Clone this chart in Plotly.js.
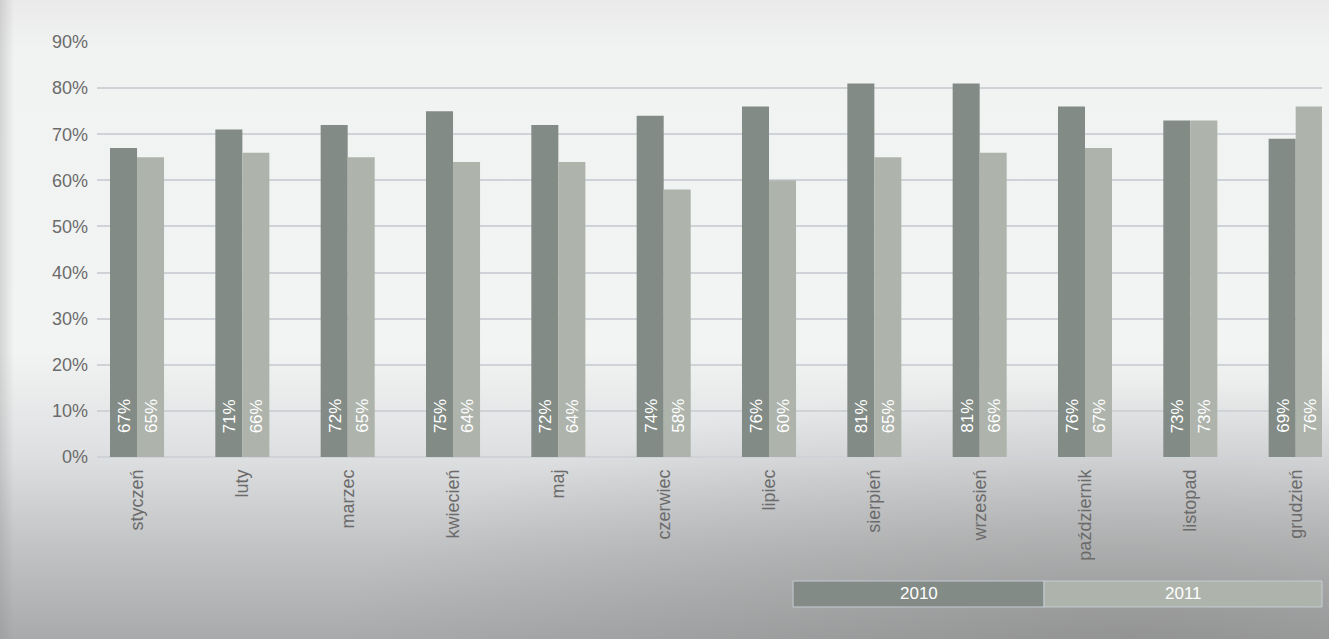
<!DOCTYPE html>
<html>
<head>
<meta charset="utf-8">
<script src="https://cdn.plot.ly/plotly-3.0.1.min.js"></script>
<style>
html,body{margin:0;padding:0;}
body{width:1329px;height:639px;overflow:hidden;
background:
 radial-gradient(ellipse 60% 40% at 85% 100%, rgba(120,120,120,0.45), rgba(120,120,120,0) 100%),
 linear-gradient(to bottom,#e9eae9 0%,#f1f2f2 8%,#f2f4f3 55%,#dddee0 72%,#c3c4c5 85%,#a9aaab 100%);}
#leftstrip{position:absolute;left:0;top:0;width:14px;height:639px;background:linear-gradient(to right,rgba(140,140,140,0.3),rgba(140,140,140,0));}
#chart{position:absolute;left:0;top:0;width:1329px;height:639px;}
</style>
</head>
<body>
<div id="leftstrip"></div>
<div id="chart"></div>
<script>
const months = ["styczeń","luty","marzec","kwiecień","maj","czerwiec","lipiec","sierpień","wrzesień","październik","listopad","grudzień"];
const seriesNames = ["2010","2011"];
const values2010 = [0.67,0.71,0.72,0.75,0.72,0.74,0.76,0.81,0.81,0.76,0.73,0.69];
const values2011 = [0.65,0.66,0.65,0.64,0.64,0.58,0.60,0.65,0.66,0.67,0.73,0.76];
const yTicks = [0,0.1,0.2,0.3,0.4,0.5,0.6,0.7,0.8,0.9];

const colors = ["#828b85","#aeb4ac"];
const FONT = "Liberation Sans, Arial, Helvetica, sans-serif";

const traces = [values2010, values2011].map((vals, k) => ({
  type: "bar",
  name: seriesNames[k],
  x: months,
  y: vals,
  marker: {color: colors[k], line: {width: 0}},
  hoverinfo: "skip"
}));

const annotations = [];
[values2010, values2011].forEach((vals, k) => {
  vals.forEach((v, i) => {
    annotations.push({
      x: months[i], y: 0, xref: "x", yref: "y",
      text: Math.round(v*100) + "%",
      showarrow: false, textangle: -90,
      xanchor: "center", yanchor: "bottom",
      xshift: k === 0 ? -13 : 14, yshift: 22,
      font: {family: FONT, size: 17, color: "#ffffff"}
    });
  });
});

// legend boxes (paper coords)
const legX = [[0.5682,0.7731],[0.7731,1.0]];
const legY = [-0.3614,-0.2988];
const shapes = legX.map((lx, k) => ({
  type: "rect", xref: "paper", yref: "paper",
  x0: lx[0], x1: lx[1], y0: legY[0], y1: legY[1],
  fillcolor: colors[k], line: {color: "#c5ccd3", width: 1}
}));
legX.forEach((lx, k) => {
  annotations.push({
    x: (lx[0]+lx[1])/2, y: (legY[0]+legY[1])/2, xref: "paper", yref: "paper",
    text: seriesNames[k], showarrow: false, xanchor: "center", yanchor: "middle",
    font: {family: FONT, size: 17, color: "#ffffff"}
  });
});

const layout = {
  width: 1329, height: 639,
  margin: {l: 97, r: 7, t: 42, b: 182, pad: 0},
  paper_bgcolor: "rgba(0,0,0,0)",
  plot_bgcolor: "rgba(0,0,0,0)",
  showlegend: false,
  barmode: "group",
  bargap: 0.487,
  bargroupgap: 0,
  font: {family: FONT},
  xaxis: {
    type: "category",
    range: [-0.38, 11.25],
    tickangle: -90,
    showgrid: false,
    showline: false,
    zeroline: false,
    ticks: "",
    ticklabelstandoff: 8,
    tickfont: {family: FONT, size: 18, color: "#6b6b6b"},
    fixedrange: true
  },
  yaxis: {
    range: [0, 0.9],
    tickvals: yTicks,
    tickformat: ".0%",
    showgrid: true,
    gridcolor: "#cfd3d8",
    gridwidth: 2,
    zeroline: true,
    zerolinecolor: "#cfd3d8",
    zerolinewidth: 2,
    showline: false,
    ticks: "",
    ticklabelstandoff: 8,
    tickfont: {family: FONT, size: 18, color: "#6b6b6b"},
    fixedrange: true
  },
  shapes: shapes,
  annotations: annotations
};

Plotly.newPlot("chart", traces, layout, {displayModeBar: false, staticPlot: true});
</script>
</body>
</html>
